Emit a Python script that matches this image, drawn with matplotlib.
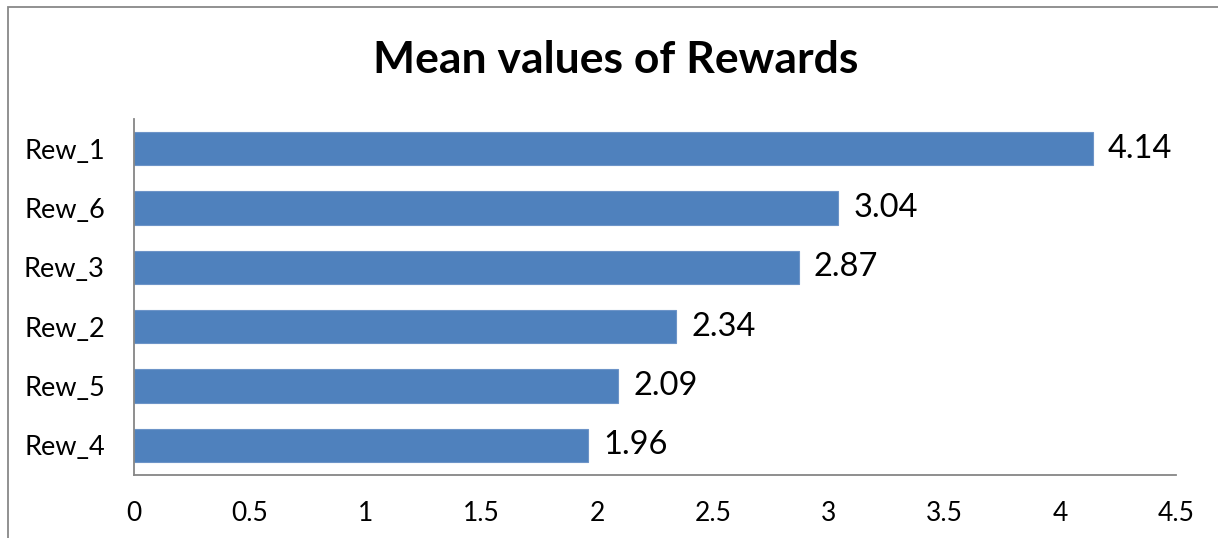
import matplotlib.pyplot as plt
from matplotlib.patches import Rectangle

plt.rcParams['font.family'] = ['Lato', 'DejaVu Sans']

labels = ["Rew_4", "Rew_5", "Rew_2", "Rew_3", "Rew_6", "Rew_1"]
means = [1.96, 2.09, 2.34, 2.87, 3.04, 4.14]
xticks = [0, 0.5, 1, 1.5, 2, 2.5, 3, 3.5, 4, 4.5]

fig = plt.figure(figsize=(12.18, 5.38), dpi=100)
ax = fig.add_axes([134 / 1218, 1 - 475 / 538, (1176 - 134) / 1218, (475 - 119) / 538])

pos = range(len(labels))
bars = ax.barh(pos, means, height=0.56, color='#4F81BD', edgecolor='#6D94C8', linewidth=0.8)
for b, v in zip(bars, means):
    ax.annotate(f"{v:.2f}", (v, b.get_y() + b.get_height() / 2), xytext=(11, 0),
                textcoords='offset points', va='center', ha='left', fontsize=23.5)

ax.set_xlim(0, 4.5)
ax.set_ylim(-0.5, len(labels) - 0.5)
ax.set_xticks(xticks)
ax.set_xticklabels([f"{t:g}" for t in xticks], fontsize=19)
ax.set_yticks(list(pos))
ax.set_yticklabels(labels, fontsize=19.5)
ax.tick_params(axis='x', length=0, pad=19)
ax.tick_params(axis='y', length=0, pad=21)
for s in ['top', 'right']:
    ax.spines[s].set_visible(False)
for s in ['left', 'bottom']:
    ax.spines[s].set_color('#868686')
    ax.spines[s].set_linewidth(1.3)

fig.text(616 / 1218, 1 - 60 / 538, "Mean values of Rewards", ha='center', va='center',
         fontsize=32, fontweight='bold')

# outer chart frame
fig.patches.append(Rectangle((8 / 1218, -0.1), 1.2, 1.1 - 7 / 538, transform=fig.transFigure,
                             fill=False, edgecolor='#888888', linewidth=1.3))

fig.savefig("out.png", dpi=100)
